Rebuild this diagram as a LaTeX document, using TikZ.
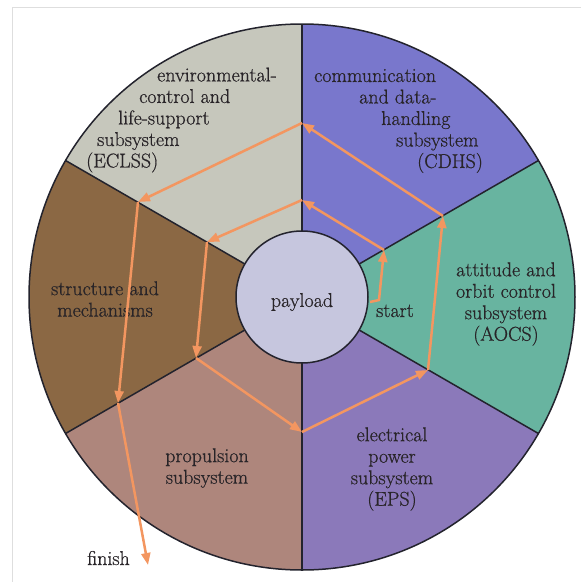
\documentclass[tikz,border=0pt]{standalone}
\usepackage{fontspec}
\usetikzlibrary{arrows.meta}
\newfontfamily\subfont{Latin Modern Roman}[FakeBold=0.7]
\newlength{\du}
\setlength{\du}{1pt}
\definecolor{cdhscolor}{RGB}{121,119,204}
\definecolor{eclsscolor}{RGB}{198,199,188}
\definecolor{structcolor}{RGB}{139,104,68}
\definecolor{propcolor}{RGB}{174,134,124}
\definecolor{epscolor}{RGB}{139,121,186}
\definecolor{aocscolor}{RGB}{104,180,160}
\definecolor{payloadcolor}{RGB}{198,198,222}
\definecolor{flowcolor}{RGB}{243,150,96}
\definecolor{rimcolor}{RGB}{35,35,45}
\definecolor{framecolor}{RGB}{222,222,222}
\definecolor{textcolor}{RGB}{40,36,40}

\begin{document}
\begin{tikzpicture}[
  rim/.style={draw=rimcolor, line width=1.5\du},
  flow/.style={draw=flowcolor, line width=2.5\du, -{Triangle[length=12pt,width=9pt]}},
  subtext/.style={font=\subfont\fontsize{20}{21.5}\selectfont, text=textcolor, inner sep=0pt},
]
\pgftransformxscale{1.000000}
\pgftransformyscale{-1.000000}
\useasboundingbox (0\du,0\du) rectangle (581\du,582\du);
% page frame
\draw[framecolor, line width=1\du] (12\du,582\du) -- (12\du,7\du) -- (581\du,7\du);
\coordinate (c) at (302\du,297\du);
% sectors
\fill[cdhscolor] (c) -- +(-30:273\du) arc[start angle=-30, end angle=-90, radius=273\du] -- cycle;
\fill[eclsscolor] (c) -- +(-90:273\du) arc[start angle=-90, end angle=-150, radius=273\du] -- cycle;
\fill[structcolor] (c) -- +(-150:273\du) arc[start angle=-150, end angle=-210, radius=273\du] -- cycle;
\fill[propcolor] (c) -- +(-210:273\du) arc[start angle=-210, end angle=-270, radius=273\du] -- cycle;
\fill[epscolor] (c) -- +(-270:273\du) arc[start angle=-270, end angle=-330, radius=273\du] -- cycle;
\fill[aocscolor] (c) -- +(30:273\du) arc[start angle=30, end angle=-30, radius=273\du] -- cycle;
% borders
\draw[rim] (c) -- +(30:273\du);
\draw[rim] (c) -- +(-30:273\du);
\draw[rim] (c) -- +(-90:273\du);
\draw[rim] (c) -- +(-150:273\du);
\draw[rim] (c) -- +(150:273\du);
\draw[rim] (c) -- +(90:273\du);
\draw[rim] (c) circle[radius=273\du];
\draw[rim, fill=payloadcolor] (c) circle[radius=66\du];
% labels
\node[subtext] (payload) at (302\du,302\du) {payload};
\node[subtext, anchor=base] (start) at (395\du,317\du) {start};
\node[subtext, anchor=base west] (finish) at (87\du,565\du) {finish};
\node[subtext, anchor=west, align=left] (eclss) at (86\du,120\du)
  {\hspace*{71\du}environmental-\\\hspace*{53\du}control and\\\hspace*{32\du}life-support\\\hspace*{11\du}subsystem\\(ECLSS)};
\node[subtext, anchor=west, align=left] (cdhs) at (314\du,121\du)
  {communication\\\hspace*{45\du}and data-\\\hspace*{67\du}handling\\\hspace*{82\du}subsystem\\\hspace*{103\du}(CDHS)};
\node[subtext, align=center] (aocs) at (506\du,304\du) {attitude and\\orbit control\\subsystem\\(AOCS)};
\node[subtext, align=center] (eps) at (392\du,469\du) {electrical\\power\\subsystem\\(EPS)};
\node[subtext, align=center] (prop) at (207\du,468\du) {propulsion\\subsystem};
\node[subtext, align=center] (struct) at (105\du,299\du) {structure and\\mechanisms};
% path around the subsystems
\coordinate (v0) at (370\du,302\du);
\coordinate (bend) at (379\du,300\du);
\coordinate (v1) at (384\du,250\du);
\coordinate (v2) at (302\du,200\du);
\coordinate (v3) at (207\du,242\du);
\coordinate (v4) at (196\du,358\du);
\coordinate (v5) at (302\du,432\du);
\coordinate (v6) at (428\du,370\du);
\coordinate (v7) at (443\du,216\du);
\coordinate (v8) at (302\du,123\du);
\coordinate (v9) at (138\du,202\du);
\coordinate (v10) at (118\du,403\du);
\coordinate (fin) at (148\du,565\du);
\draw[flow] (v0) -- (bend) -- (v1);
\draw[flow] (v1) -- (v2);
\draw[flow] (v2) -- (v3);
\draw[flow] (v3) -- (v4);
\draw[flow] (v4) -- (v5);
\draw[flow] (v5) -- (v6);
\draw[flow] (v6) -- (v7);
\draw[flow] (v7) -- (v8);
\draw[flow] (v8) -- (v9);
\draw[flow] (v9) -- (v10);
\draw[flow] (v10) -- (fin);
\end{tikzpicture}
\end{document}
